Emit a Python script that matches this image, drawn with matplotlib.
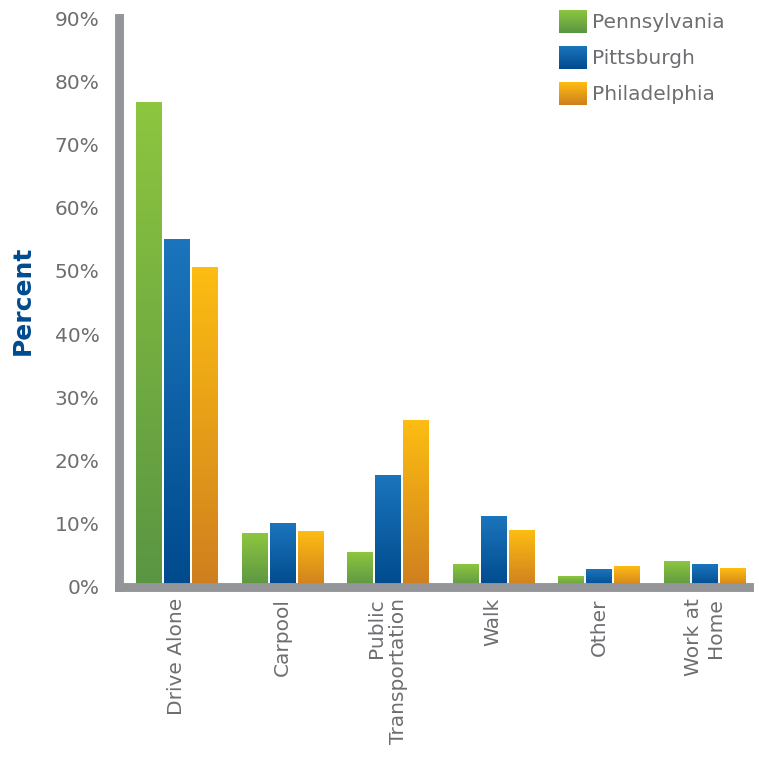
import numpy as np
import matplotlib.pyplot as plt
from matplotlib.colors import LinearSegmentedColormap

categories = ['Drive Alone', 'Carpool', 'Public\nTransportation', 'Walk', 'Other', 'Work at\nHome']
series = ['Pennsylvania', 'Pittsburgh', 'Philadelphia']
pennsylvania = [76.7, 8.5, 5.4, 3.6, 1.7, 4.1]
pittsburgh = [54.9, 10.1, 17.7, 11.2, 2.8, 3.6]
philadelphia = [50.6, 8.7, 26.4, 8.9, 3.3, 3.0]
yticks = list(range(0, 91, 10))

top_colors = ['#8dc63f', '#1b75bc', '#fdbd12']
bottom_colors = ['#5a9543', '#004a8d', '#cf7f1f']
axis_gray = '#939598'
text_gray = '#6d6e71'

W, H = 759, 761
fig = plt.figure(figsize=(W / 100, H / 100), dpi=100)
ax = fig.add_axes([119 / W, 1 - 587 / H, (749 - 119) / W, (587 - 18) / H])

grad = np.linspace(0, 1, 256).reshape(-1, 1)
cmaps = [LinearSegmentedColormap.from_list(s, [b, t]) for s, b, t in zip(series, bottom_colors, top_colors)]

x = np.arange(len(categories))
width = 0.237
step = 0.265
for k, vals in enumerate([pennsylvania, pittsburgh, philadelphia]):
    pos = x + (k - 1) * step
    bars = ax.bar(pos, vals, width, color='none', edgecolor='none')
    for b in bars:
        x0 = b.get_x()
        ax.imshow(grad, cmap=cmaps[k], origin='lower', aspect='auto',
                  extent=[x0, x0 + b.get_width(), 0, b.get_height()], zorder=2)

ax.set_xlim(-0.5445, 5.421)
ax.set_ylim(0, 90)
ax.set_yticks(yticks)
ax.set_yticklabels([f'{v}%' for v in yticks])
ax.set_xticks(x)
ax.set_xticklabels(categories, rotation=90, va='top', ha='center', multialignment='right')

for side in ['top', 'right']:
    ax.spines[side].set_visible(False)
for side in ['left', 'bottom']:
    ax.spines[side].set_color(axis_gray)
    ax.spines[side].set_linewidth(6.4)
ax.spines['bottom'].set_capstyle('projecting')
ax.tick_params(axis='both', length=0, labelsize=14.5, labelcolor=text_gray)
ax.tick_params(axis='y', pad=14)
ax.tick_params(axis='x', pad=8)

ax.set_ylabel('Percent', fontsize=18, fontweight='bold', color='#004a8f')
ax.yaxis.set_label_coords(-0.134, 0.504)

# legend swatches with the same gradients
for k, name in enumerate(series):
    top = 10 + k * 36
    sw = fig.add_axes([559 / W, 1 - (top + 23) / H, 28 / W, 23 / H])
    sw.imshow(grad, cmap=cmaps[k], origin='lower', aspect='auto')
    sw.axis('off')
    fig.text(592 / W, 1 - (top + 12) / H, name, fontsize=14.5, color=text_gray, va='center', ha='left')

fig.savefig('out.png', dpi=100)
